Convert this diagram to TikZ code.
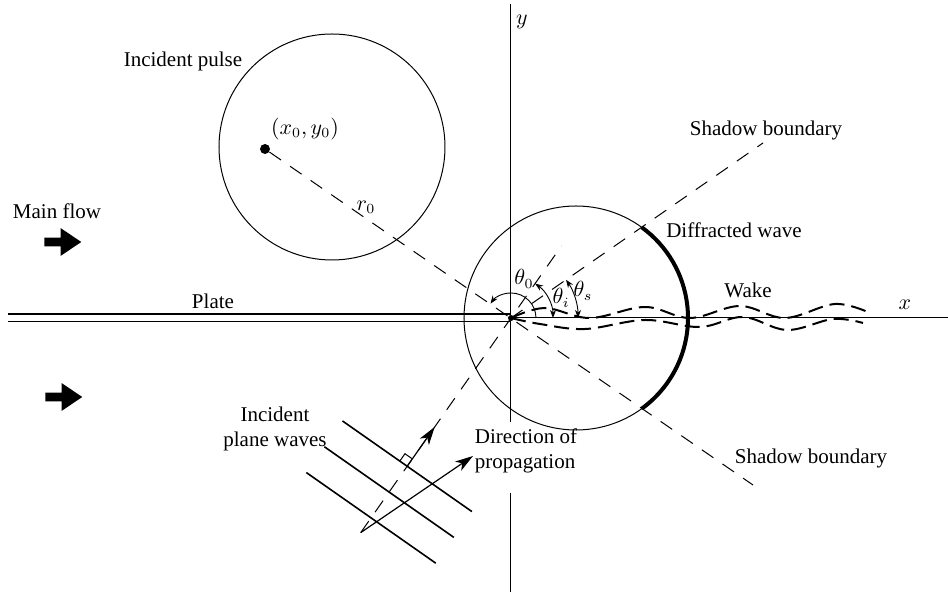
\documentclass[tikz,border=0pt]{standalone}
\usepackage{fontspec}
\setmainfont{Liberation Serif}
\usetikzlibrary{arrows.meta,positioning,calc,shapes.arrows}
\tikzset{
  axisline/.style={line width=0.5pt},
  plateline/.style={double,double distance=3.4pt,line width=0.55pt},
  thincircle/.style={line width=0.5pt},
  diffarc/.style={line width=2pt},
  guideline/.style={line width=0.5pt,dash pattern=on 7pt off 5.5pt},
  wakeline/.style={line width=1pt,dash pattern=on 7.5pt off 3.5pt},
  waveline/.style={line width=0.8pt},
  anglearc/.style={line width=0.45pt,{Stealth[length=4pt,width=3pt]}-{Stealth[length=4pt,width=3pt]}},
  angleone/.style={line width=0.45pt,-{Stealth[length=4pt,width=3pt]}},
  bigarrow/.style={-{Stealth[length=9pt,width=5.5pt,inset=2.5pt]},line width=0.6pt},
  dot/.style={circle,fill=black,inner sep=0pt},
  flowarrow/.style={single arrow,fill=black,inner xsep=0pt,inner ysep=2pt,
    minimum height=18.5pt,single arrow head extend=4.75pt,single arrow tip angle=68},
  figurelabel/.style={inner sep=1pt,align=center}
}

\begin{document}
\begin{tikzpicture}[x=0.5pt,y=0.5pt,font=\fontsize{10.5}{12.5}\selectfont]
  \useasboundingbox (-511,-274) rectangle (437,318);
  % axes and plate
  \coordinate (tip) at (0,0);
  \coordinate (xend) at (437,0);
  \coordinate (ytop) at (0,314);
  \coordinate (ygapA) at (0,-104);
  \coordinate (ygapB) at (0,-175);
  \coordinate (ybot) at (0,-274);
  \coordinate (plateend) at (-503,0);
  \draw[axisline] (tip) -- (xend);
  \draw[axisline] (ytop) -- (ygapA);
  \draw[axisline] (ygapB) -- (ybot);
  \draw[plateline] (plateend) -- (tip);
  \node[dot,minimum size=3pt] (tipdot) at (tip) {};
  \node[figurelabel] (xlab) at (394,13) {$x$};
  \node[figurelabel] (ylab) at (11,296) {$y$};
  \node[figurelabel] (platelab) at (-298,17) {Plate};
  % main flow
  \node[figurelabel] (flowlab) at (-454,107) {Main flow};
  \node[flowarrow] (flowtop) at (-451.5,76) {};
  \node[flowarrow] (flowbot) at (-450.5,-79) {};
  % incident pulse
  \coordinate (pulsec) at (-179,171);
  \draw[thincircle] (pulsec) circle[radius=113];
  \node[dot,minimum size=5pt] (src) at (-246,169) {};
  \node[figurelabel] (srclab) at (-206,189) {$(x_0,y_0)$};
  \node[figurelabel] (pulselab) at (-328,257) {Incident pulse};
  \node[figurelabel] (rlab) at (-145,111) {$r_0$};
  % shadow boundaries
  \coordinate (shadowup) at (252,175);
  \coordinate (shadowlo) at (242,-167);
  \draw[guideline] (src) -- (shadowlo);
  \draw[guideline] (tip) -- (shadowup);
  \node[figurelabel] (shuplab) at (255,188) {Shadow boundary};
  \node[figurelabel] (shlolab) at (300,-140) {Shadow boundary};
  % diffracted wave
  \coordinate (diffc) at (65,0);
  \draw[thincircle] (diffc) circle[radius=112];
  \draw[diffarc] ($(diffc)+(-54:112)$) arc[start angle=-54,end angle=54,radius=112];
  \node[figurelabel] (difflab) at (223,88) {Diffracted wave};
  % wake
  \draw[wakeline] plot[smooth,tension=0.6] coordinates {(0,0) (34,10) (79,0) (134,11)
    (179,0) (229,12) (274,0) (324,14) (359,5)};
  \draw[wakeline] plot[smooth,tension=0.6] coordinates {(0,0) (29,-6) (74,-11) (134,-2)
    (189,-9) (232,1) (276,-12) (322,-1) (352,-5)};
  \node[figurelabel] (wakelab) at (237,28) {Wake};
  % angles
  \draw[angleone] (25,0) arc[start angle=0,end angle=145,radius=25];
  \draw[anglearc] (42,0) arc[start angle=0,end angle=55,radius=42];
  \draw[anglearc] (67,0) arc[start angle=0,end angle=34.8,radius=67];
  \node[figurelabel] (thetaolab) at (13,39) {$\theta_0$};
  \node[figurelabel] (thetailab) at (50,20) {$\theta_i$};
  \node[figurelabel] (thetaslab) at (72,27) {$\theta_s$};
  % incident plane waves
  \coordinate (normlo) at (235:262);
  \coordinate (normup) at (55:88);
  \draw[guideline] (normlo) -- (normup);
  \foreach \d [count=\k] in {181,212.5,244} {
    \coordinate (wf\k) at (235:\d);
    \draw[waveline] ($(wf\k)+(145:79)$) -- ($(wf\k)+(-35:79)$);
  }
  \coordinate (normhead) at (235:133);
  \draw[bigarrow] (wf1) -- (normhead);
  \draw[line width=0.5pt] ($(wf1)+(55:9)$) -- ++(145:9) -- ($(wf1)+(145:9)$);
  \coordinate (proptip) at (-38,-138);
  \draw[bigarrow] (normlo) -- (proptip);
  \node[figurelabel] (wavelab) at (-236,-111) {Incident\\plane waves};
  \node[figurelabel,align=left] (proplab) at (15,-133) {Direction of\\propagation};
\end{tikzpicture}
\end{document}
